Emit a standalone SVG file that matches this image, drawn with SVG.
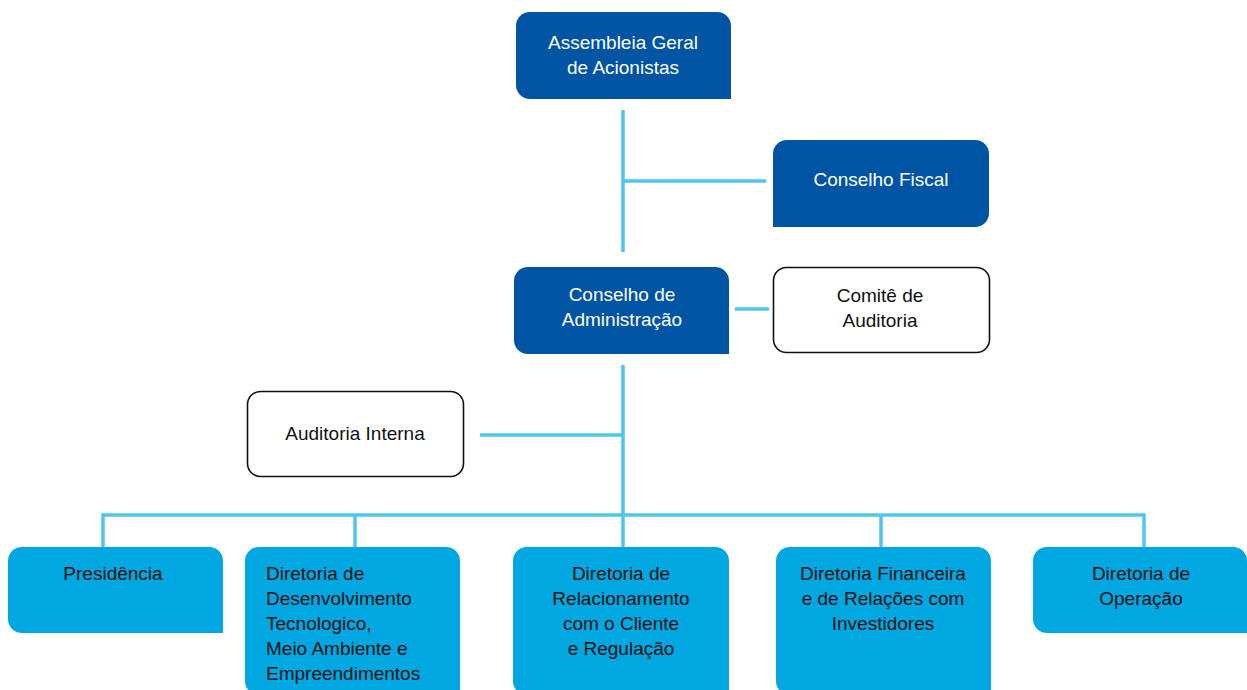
<svg xmlns="http://www.w3.org/2000/svg" width="1247" height="690" viewBox="0 0 1247 690">
<style>
.dark{fill:#0054A4}
.light{fill:#00A7E1}
.outline{fill:#fff;stroke:#111;stroke-width:1.6}
.conn{stroke:#4FC6F2;stroke-width:3.5;fill:none}
text{font-family:"Liberation Sans","Noto Sans",Arial,sans-serif;font-size:19px;text-anchor:middle}
.w{fill:#fff}
.b{fill:#111}
.l{text-anchor:start}
</style>
<rect width="1247" height="690" fill="#fff"/>
<g id="connectors">
<path class="conn" d="M623,110 V252"/>
<path class="conn" d="M623,181 H766"/>
<path class="conn" d="M735,309 H769"/>
<path class="conn" d="M623,365 V507"/>
<path class="conn" d="M480,435 H623"/>
<path class="conn" d="M103,547 V515 H1144 V547"/>
<path class="conn" d="M355,515 V547"/>
<path class="conn" d="M623,507 V547"/>
<path class="conn" d="M881,515 V547"/>
</g>
<g id="assembleia">
<path class="dark" d="M530,12 H717 A14,14 0 0 1 731,26 V99 H530 A14,14 0 0 1 516,85 V26 A14,14 0 0 1 530,12 Z"/>
<text class="w" x="623" y="49">Assembleia Geral</text>
<text class="w" x="623" y="74">de Acionistas</text>
</g>
<g id="conselho-fiscal">
<path class="dark" d="M787,140 H975 A14,14 0 0 1 989,154 V213 A14,14 0 0 1 975,227 H773 V154 A14,14 0 0 1 787,140 Z"/>
<text class="w" x="881" y="186">Conselho Fiscal</text>
</g>
<g id="conselho-admin">
<path class="dark" d="M528,267 H715 A14,14 0 0 1 729,281 V354 H528 A14,14 0 0 1 514,340 V281 A14,14 0 0 1 528,267 Z"/>
<text class="w" x="622" y="301">Conselho de</text>
<text class="w" x="622" y="326">Administração</text>
</g>
<g id="comite">
<rect class="outline" x="773.5" y="267.5" width="216" height="85" rx="13"/>
<text class="b" x="880" y="302">Comitê de</text>
<text class="b" x="880" y="327">Auditoria</text>
</g>
<g id="auditoria-interna">
<rect class="outline" x="247.5" y="391.5" width="216" height="85" rx="13"/>
<text class="b" x="355" y="440">Auditoria Interna</text>
</g>
<g id="presidencia">
<path class="light" d="M22,547 H209 A14,14 0 0 1 223,561 V633 H22 A14,14 0 0 1 8,619 V561 A14,14 0 0 1 22,547 Z"/>
<text class="b" x="113" y="580">Presidência</text>
</g>
<g id="dir-desenvolvimento">
<path class="light" d="M259,547 H446 A14,14 0 0 1 460,561 V695 H259 A14,14 0 0 1 245,681 V561 A14,14 0 0 1 259,547 Z"/>
<text class="b l" x="266" y="580">Diretoria de</text>
<text class="b l" x="266" y="605">Desenvolvimento</text>
<text class="b l" x="266" y="630">Tecnologico,</text>
<text class="b l" x="266" y="655">Meio Ambiente e</text>
<text class="b l" x="266" y="680">Empreendimentos</text>
</g>
<g id="dir-relacionamento">
<path class="light" d="M527,547 H715 A14,14 0 0 1 729,561 V695 H527 A14,14 0 0 1 513,681 V561 A14,14 0 0 1 527,547 Z"/>
<text class="b" x="621" y="580">Diretoria de</text>
<text class="b" x="621" y="605">Relacionamento</text>
<text class="b" x="621" y="630">com o Cliente</text>
<text class="b" x="621" y="655">e Regulação</text>
</g>
<g id="dir-financeira">
<path class="light" d="M790,547 H977 A14,14 0 0 1 991,561 V695 H790 A14,14 0 0 1 776,681 V561 A14,14 0 0 1 790,547 Z"/>
<text class="b" x="883" y="580">Diretoria Financeira</text>
<text class="b" x="883" y="605">e de Relações com</text>
<text class="b" x="883" y="630">Investidores</text>
</g>
<g id="dir-operacao">
<path class="light" d="M1047,547 H1233 A14,14 0 0 1 1247,561 V633 H1047 A14,14 0 0 1 1033,619 V561 A14,14 0 0 1 1047,547 Z"/>
<text class="b" x="1141" y="580">Diretoria de</text>
<text class="b" x="1141" y="605">Operação</text>
</g>
</svg>
